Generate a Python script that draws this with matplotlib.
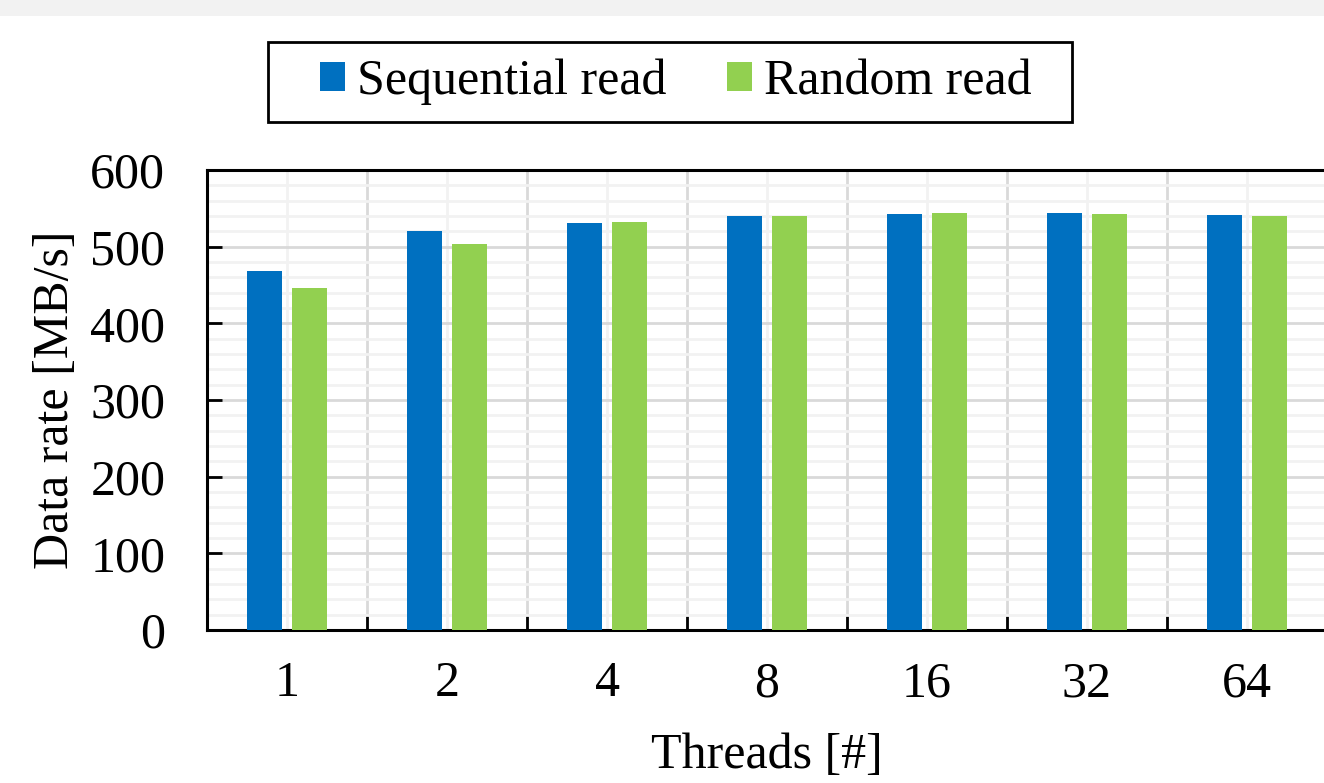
import numpy as np
import matplotlib
matplotlib.use('Agg')
import matplotlib.pyplot as plt
from matplotlib.patches import Rectangle

plt.rcParams['font.family'] = ['Liberation Serif', 'DejaVu Serif']

threads = ['1', '2', '4', '8', '16', '32', '64']
seq_read = [468, 520, 531, 540, 543, 544, 541]
rand_read = [446, 503, 532, 540, 544, 543, 540]

W, H = 1324, 783
fig = plt.figure(figsize=(W / 100, H / 100), dpi=100)
# grey strip at the top
fig.patches.append(Rectangle((0, 1 - 16 / H), 1, 16 / H, transform=fig.transFigure,
                             facecolor='#f2f2f2', edgecolor='none', zorder=0))
ax = fig.add_axes([207 / W, 1 - 630 / H, 1120 / W, 460 / H])

x = np.arange(len(threads))
w = 0.22
ax.bar(x - 0.14, seq_read, w, color='#0070c0', label='Sequential read', zorder=3)
ax.bar(x + 0.14, rand_read, w, color='#92d050', label='Random read', zorder=3)

ax.set_xlim(-0.5, len(threads) - 0.5)
ax.set_ylim(0, 600)

ax.set_xticks(x)
ax.set_xticklabels(threads)
ax.set_xticks(np.arange(len(threads) + 1) - 0.5, minor=True)
ax.set_yticks(np.arange(0, 601, 100))
ax.set_yticks(np.arange(0, 601, 20), minor=True)

fs = 36
ax.tick_params(axis='x', which='major', length=0, pad=22, labelsize=fs)
ax.tick_params(axis='x', which='minor', direction='in', length=11, width=2, color='black')
ax.tick_params(axis='y', which='major', direction='in', length=11, width=2, pad=30, labelsize=fs)
ax.tick_params(axis='y', which='minor', length=0)

ax.grid(axis='y', which='major', color='#d9d9d9', linewidth=2, zorder=1)
ax.grid(axis='y', which='minor', color='#f2f2f2', linewidth=2, zorder=0)
ax.grid(axis='x', which='minor', color='#d9d9d9', linewidth=2, zorder=1)
ax.grid(axis='x', which='major', color='#f2f2f2', linewidth=2, zorder=0)
ax.set_axisbelow(True)

for s in ['left', 'bottom', 'top', 'right']:
    ax.spines[s].set_linewidth(2.2)
    ax.spines[s].set_color('black')

ax.set_xlabel('Threads [#]', fontsize=fs, labelpad=18)
ax.set_ylabel('Data rate [MB/s]', fontsize=fs, labelpad=8)

# legend box drawn by hand (wider side padding than matplotlib's borderpad)
fig.patches.append(Rectangle((268 / W, 1 - 122 / H), (1072 - 268) / W, 80 / H,
                             transform=fig.transFigure, facecolor='white',
                             edgecolor='black', linewidth=2, zorder=1))
leg = fig.legend(loc='center', bbox_to_anchor=(676 / W, 1 - 82 / H), ncol=2,
                 fontsize=fs, frameon=False,
                 handlelength=0.5, handleheight=0.5, handletextpad=0.25,
                 columnspacing=1.2, borderpad=0.2, borderaxespad=0)

fig.savefig('out.png', dpi=100)
